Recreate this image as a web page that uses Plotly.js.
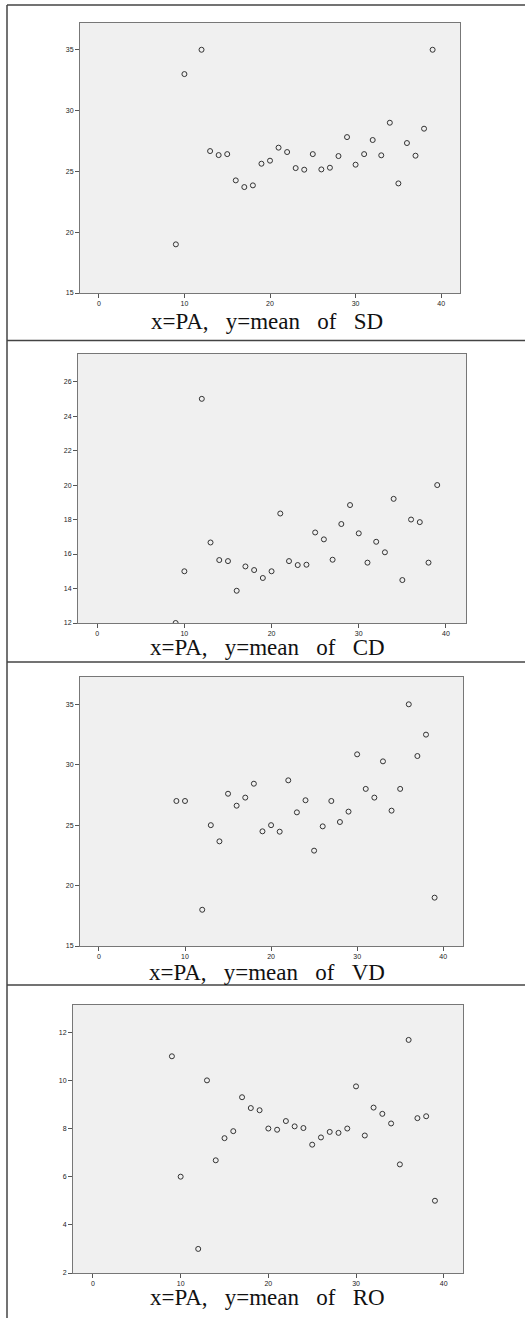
<!DOCTYPE html>
<html>
<head>
<meta charset="utf-8">
<script src="https://cdn.plot.ly/plotly-3.0.1.min.js"></script>
<style>html,body{margin:0;padding:0;background:#fff;}#chart{width:525px;height:1318px;}</style>
</head>
<body>
<div id="chart"></div>
<script>
// x = PA values (shared by all four panels)
const paValues = [9,10,12,13,14,15,16,17,18,19,20,21,22,23,24,25,26,27,28,29,30,31,32,33,34,35,36,37,38,39];
// y = mean of SD
const meanSD = [19.0,33.0,35.0,26.67,26.34,26.42,24.26,23.71,23.85,25.63,25.88,26.95,26.59,25.27,25.14,26.42,25.16,25.3,26.26,27.82,25.55,26.42,27.58,26.32,29.0,24.01,27.33,26.29,28.51,35.0];
// y = mean of CD
const meanCD = [12.0,15.0,25.0,16.67,15.65,15.59,13.87,15.28,15.07,14.61,15.0,18.35,15.59,15.36,15.38,17.25,16.85,15.67,17.74,18.84,17.2,15.5,16.71,16.1,19.2,14.49,18.0,17.85,15.5,20.0];
// y = mean of VD
const meanVD = [27.0,27.0,18.0,25.0,23.66,27.6,26.61,27.28,28.43,24.49,25.0,24.46,28.71,26.06,27.06,22.89,24.9,27.0,25.26,26.12,30.86,28.0,27.28,30.28,26.2,28.0,35.0,30.72,32.49,19.0];
// y = mean of RO
const meanRO = [11.0,6.0,3.0,10.0,6.68,7.6,7.89,9.3,8.85,8.76,8.0,7.95,8.31,8.09,8.02,7.33,7.63,7.86,7.82,8.0,9.75,7.71,8.87,8.61,8.21,6.51,11.68,8.43,8.51,5.0];

const panelTitles = ["x=PA, y=mean of SD","x=PA, y=mean of CD","x=PA, y=mean of VD","x=PA, y=mean of RO"];
const xTicks = [0,10,20,30,40];
const yTicksList = [[15,20,25,30,35],[12,14,16,18,20,22,24,26],[15,20,25,30,35],[2,4,6,8,10,12]];
const seriesList = [meanSD, meanCD, meanVD, meanRO];

const W = 525, H = 1318;
const PX = p => p / W;
const PY = p => 1 - p / H;

// pixel boxes of plot areas [left, right, top, bottom]
const boxes = [[80,460,23,293],[78,466,354,623],[80,463,677,946],[73,463,1005,1273]];
const xRanges = [[-2.2,42.2],[-2.2,42.3],[-2.2,42.3],[-2.28,42.2]];
const yRanges = [[15,37.2],[12,27.6],[15,37.26],[2,13.13]];
const titleY = [321,647,972,1297];

const traces = [];
const layout = {
  width: W, height: H,
  margin: {l:0,r:0,t:0,b:0},
  paper_bgcolor: '#ffffff',
  plot_bgcolor: '#f0f0f0',
  showlegend: false,
  shapes: [], annotations: []
};

for (let i = 0; i < 4; i++) {
  const s = i === 0 ? '' : String(i+1);
  const b = boxes[i];
  traces.push({
    type: 'scatter', mode: 'markers',
    x: paValues, y: seriesList[i],
    xaxis: 'x' + s, yaxis: 'y' + s,
    marker: {symbol: 'circle-open', size: 5, color: '#333333', line: {width: 1, color: '#333333'}},
    hoverinfo: 'x+y'
  });
  const axCommon = {
    showgrid: false, zeroline: false, showline: true, mirror: true,
    linecolor: '#777777', linewidth: 1,
    ticks: 'outside', ticklen: 4, tickwidth: 1, tickcolor: '#555555',
    tickfont: {family: 'Liberation Sans, Arial, sans-serif', size: 7, color: '#222222'},
    fixedrange: true
  };
  layout['xaxis' + s] = Object.assign({}, axCommon, {
    domain: [PX(b[0]), PX(b[1])], range: xRanges[i],
    tickmode: 'array', tickvals: xTicks, ticktext: xTicks.map(String),
    anchor: 'y' + s, ticklabelstandoff: 0
  });
  layout['yaxis' + s] = Object.assign({}, axCommon, {
    domain: [PY(b[3]), PY(b[2])], range: yRanges[i],
    tickmode: 'array', tickvals: yTicksList[i], ticktext: yTicksList[i].map(String),
    anchor: 'x' + s, ticklabelstandoff: 0
  });
  layout.annotations.push({
    xref: 'paper', yref: 'paper', x: PX(267), y: PY(titleY[i]),
    xanchor: 'center', yanchor: 'middle', showarrow: false,
    text: panelTitles[i].replace(/ /g, '\u00a0\u00a0\u00a0'),
    font: {family: 'Liberation Serif, Times New Roman, serif', size: 23, color: '#111111'}
  });
}

// table borders
const lineStyle = {color: '#444444', width: 1.5};
layout.shapes.push({type:'line', xref:'paper', yref:'paper', x0:PX(7), x1:PX(7), y0:PY(5), y1:PY(1318), line: lineStyle});
layout.shapes.push({type:'line', xref:'paper', yref:'paper', x0:PX(7), x1:PX(525), y0:PY(5), y1:PY(5), line: lineStyle});
[340.5, 662, 985].forEach(yy => {
  layout.shapes.push({type:'line', xref:'paper', yref:'paper', x0:PX(7), x1:PX(525), y0:PY(yy), y1:PY(yy), line: lineStyle});
});

Plotly.newPlot('chart', traces, layout, {displayModeBar: false, staticPlot: true});
</script>
</body>
</html>
